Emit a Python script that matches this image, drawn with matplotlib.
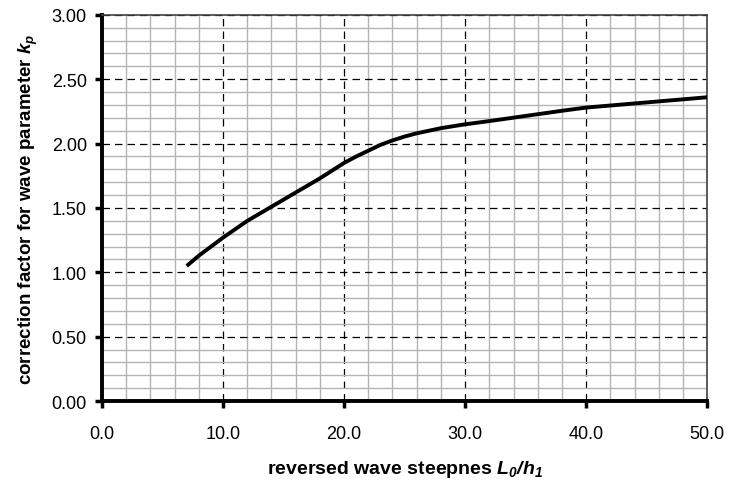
import matplotlib
matplotlib.use('Agg')
import matplotlib.pyplot as plt
from matplotlib.ticker import MultipleLocator
import numpy as np

# curve
steepness = [7, 8, 9, 10, 11, 12, 13, 14, 15, 16, 17, 18, 19, 20, 21, 22, 23, 24,
             25, 26, 27, 28, 30, 32, 35, 38, 40, 45, 50]
kp = [1.05, 1.13, 1.20, 1.27, 1.335, 1.40, 1.455, 1.51, 1.565, 1.62, 1.675, 1.73,
      1.79, 1.85, 1.90, 1.945, 1.99, 2.025, 2.055, 2.08, 2.10, 2.12, 2.15, 2.175,
      2.215, 2.255, 2.28, 2.32, 2.36]

plt.rcParams['font.family'] = ['Liberation Sans', 'DejaVu Sans']
plt.rcParams['mathtext.fontset'] = 'custom'
plt.rcParams['mathtext.it'] = 'Liberation Sans:italic:bold'
plt.rcParams['mathtext.rm'] = 'Liberation Sans:italic:bold'

fig = plt.figure(figsize=(7.29, 4.81), dpi=100)
ax = fig.add_axes([0.140, 0.164, 0.830, 0.803])

ax.set_xlim(0, 50)
ax.set_ylim(0, 3)
ax.xaxis.set_major_locator(MultipleLocator(10))
ax.xaxis.set_minor_locator(MultipleLocator(2))
ax.yaxis.set_major_locator(MultipleLocator(0.5))
ax.yaxis.set_minor_locator(MultipleLocator(0.1))

ax.grid(which='minor', color='#b4b4b4', linewidth=1.0, linestyle='-')
ax.grid(which='major', color='black', linewidth=0.9, linestyle=(0, (6, 4)))
ax.set_axisbelow(True)

ax.plot(steepness, kp, color='black', linewidth=2.8, solid_capstyle='butt', zorder=5)

ax.xaxis.set_major_formatter(lambda v, p: '%.1f' % v)
ax.yaxis.set_major_formatter(lambda v, p: '%.2f' % v)
ax.tick_params(which='major', labelsize=13, length=5, width=2.5, direction='out', pad=6)
ax.tick_params(which='minor', length=0)
ax.tick_params(axis='x', pad=12)

ax.spines['left'].set_linewidth(2.8)
ax.spines['bottom'].set_linewidth(2.8)
for s in ['top', 'right']:
    ax.spines[s].set_linewidth(1.2)
    ax.spines[s].set_color('#404040')

ax.set_xlabel(r'reversed wave steepnes $L_0/h_1$', fontsize=14,
              fontweight='bold', labelpad=12)
ax.set_ylabel(r'correction factor for wave parameter $k_p$', fontsize=13.5,
              fontweight='bold', labelpad=8)

fig.savefig('out.png', dpi=100)
